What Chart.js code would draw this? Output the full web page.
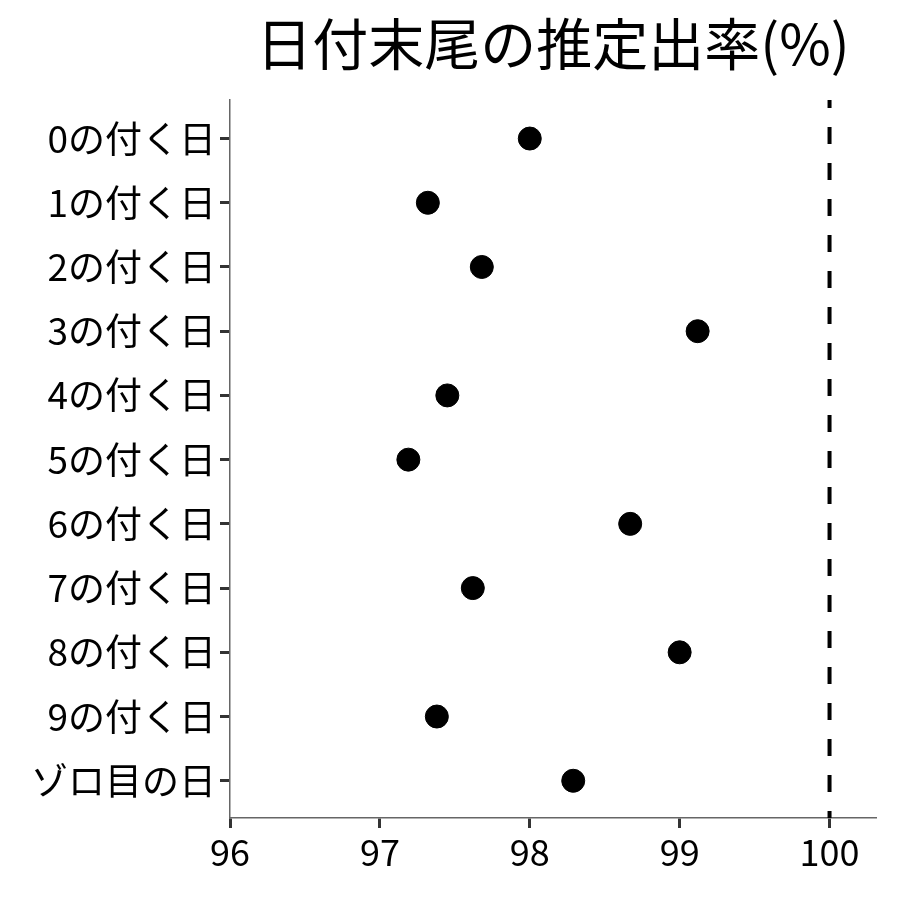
<!DOCTYPE html>
<html>
<head>
<meta charset="utf-8">
<script src="https://cdn.jsdelivr.net/npm/chart.js@4"></script>
<style>
html,body{margin:0;padding:0;background:#fff;}
#wrap{width:900px;height:900px;}
</style>
</head>
<body>
<div id="wrap"><canvas id="c" width="900" height="900"></canvas></div>
<script>
const titleText = "日付末尾の推定出率(%)";
const categories = ["0の付く日","1の付く日","2の付く日","3の付く日","4の付く日","5の付く日","6の付く日","7の付く日","8の付く日","9の付く日","ゾロ目の日"];
const rates = [98.0, 97.32, 97.68, 99.12, 97.45, 97.19, 98.67, 97.62, 99.0, 97.38, 98.29];
const xTickValues = [96, 97, 98, 99, 100];
const referenceValue = 100;

const FONT = '"Noto Sans CJK JP", "Noto Sans", sans-serif';

const titlePlugin = {
  id: 'centerTitle',
  afterDraw(chart) {
    const {ctx, chartArea} = chart;
    ctx.save();
    ctx.font = '56px ' + FONT;
    ctx.fillStyle = '#000';
    ctx.textAlign = 'center';
    ctx.textBaseline = 'alphabetic';
    ctx.fillText(titleText, (chartArea.left + chartArea.right) / 2, 65);
    ctx.restore();
  }
};

const points = rates.map((v, i) => ({x: v, y: i}));

new Chart(document.getElementById('c'), {
  type: 'scatter',
  data: {
    datasets: [
      {
        type: 'line',
        data: [{x: referenceValue, y: -0.6}, {x: referenceValue, y: categories.length - 0.42}],
        borderColor: '#000',
        borderWidth: 4,
        borderDash: [17, 19],
        borderDashOffset: 9,
        pointRadius: 0,
        fill: false
      },
      {
        data: points,
        backgroundColor: '#000',
        borderColor: '#000',
        pointRadius: 11.5,
        pointHoverRadius: 11.5
      }
    ]
  },
  options: {
    responsive: false,
    animation: false,
    layout: {padding: {top: 100, right: 24, left: 0, bottom: 0}},
    plugins: {legend: {display: false}, tooltip: {enabled: false}, title: {display: false}},
    scales: {
      x: {
        type: 'linear',
        min: 96,
        max: 100.31,
        afterBuildTicks(scale) { scale.ticks = xTickValues.map(v => ({value: v})); },
        afterFit(scale) { scale.height = 82; },
        grid: {drawOnChartArea: false, drawTicks: true, tickLength: 10, tickWidth: 3, tickColor: '#333'},
        border: {display: true, color: '#666', width: 1.5},
        ticks: {color: '#000', font: {family: FONT, size: 36}, padding: 3, maxRotation: 0,
          callback: v => String(v)}
      },
      y: {
        type: 'linear',
        reverse: true,
        min: -0.6,
        max: categories.length - 0.42,
        afterBuildTicks(scale) { scale.ticks = categories.map((c, i) => ({value: i})); },
        afterFit(scale) { scale.width = 230; },
        grid: {drawOnChartArea: false, drawTicks: true, tickLength: 10, tickWidth: 3, tickColor: '#333'},
        border: {display: true, color: '#666', width: 1.5},
        ticks: {color: '#000', font: {family: FONT, size: 37}, padding: 4, autoSkip: false,
          callback: v => categories[v]}
      }
    }
  },
  plugins: [titlePlugin]
});
</script>
</body>
</html>
